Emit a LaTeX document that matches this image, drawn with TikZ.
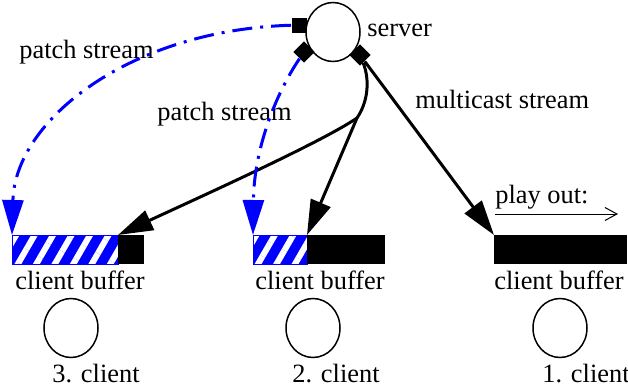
\documentclass[tikz,border=0pt]{standalone}
\usepackage{fontspec}
\setmainfont{Liberation Serif}
\usepackage{xcolor}
\usepackage{tikz}
\usetikzlibrary{positioning,calc,arrows.meta,shapes.geometric,patterns.meta}
\definecolor{PatchBlue}{RGB}{0,0,255}
\tikzset{
    lbl/.style={font=\fontsize{13.2}{15}\selectfont, inner sep=0pt},
    hostnode/.style={ellipse, draw=black, line width=0.75pt, minimum width=27pt, minimum height=29.5pt, inner sep=0pt},
    portsq/.style={rectangle, fill=black, minimum size=7.5pt, inner sep=0pt},
    portdia/.style={rectangle, fill=black, rotate=45, minimum size=7.5pt, inner sep=0pt},
    patchbuf/.style={rectangle, draw=PatchBlue, line width=0.4pt, preaction={fill=PatchBlue},
        pattern={Lines[angle=60,distance=8pt,line width=3pt]}, pattern color=white,
        minimum height=14.5pt, inner sep=0pt, outer sep=0pt, anchor=north west},
    mcbuf/.style={rectangle, fill=black, minimum height=14.5pt, inner sep=0pt, outer sep=0pt, anchor=north west},
    mcast/.style={draw=black, line width=1.5pt, -{Triangle[length=17.5pt,width=10.5pt]}},
    patch/.style={draw=PatchBlue, line width=1.5pt, dash pattern=on 10pt off 4pt on 1.5pt off 4pt,
        -{Triangle[length=17.5pt,width=10.5pt]}}
}
\begin{document}
\begin{tikzpicture}[x=0.5pt, y=-0.5pt]
    \useasboundingbox (0,0) rectangle (628,391);
    % server
    \node[hostnode] (srv) at (333,32) {};
    \node[lbl, anchor=base west] (srvlbl) at (367,37) {server};
    \node[portsq] (psq) at (299,25) {};
    \node[portdia] (pdl) at (304,52) {};
    \node[portdia] (pdr) at (360,55) {};
    % client buffers
    \node[patchbuf, minimum width=53pt] (b3a) at (12,235) {};
    \node[mcbuf, minimum width=13pt] (b3b) at (b3a.north east) {};
    \node[patchbuf, minimum width=27pt] (b2a) at (253,235) {};
    \node[mcbuf, minimum width=39pt] (b2b) at (b2a.north east) {};
    \node[mcbuf, minimum width=66.5pt] (b1) at (494,235) {};
    \node[lbl, anchor=base] (bl3) at (80,289) {client buffer};
    \node[lbl, anchor=base] (bl2) at (320,289) {client buffer};
    \node[lbl, anchor=base] (bl1) at (559,289) {client buffer};
    % clients
    \node[hostnode] (c3) at (71,328) {};
    \node[hostnode] (c2) at (313,328) {};
    \node[hostnode] (c1) at (560,328) {};
    \node[lbl, anchor=base west] (cl3) at (52,382) {3. client};
    \node[lbl, anchor=base west] (cl2) at (292,382) {2. client};
    \node[lbl, anchor=base west] (cl1) at (542,382) {1. client};
    % stream labels
    \node[lbl, anchor=base west] (ps3) at (19,58) {patch stream};
    \node[lbl, anchor=base west] (ps2) at (157,120) {patch stream};
    \node[lbl, anchor=base west] (mcl) at (415,108) {multicast stream};
    \node[lbl, anchor=base west] (pol) at (495,203) {play out:};
    \coordinate (pos) at (495,214);
    \coordinate (poe) at (618,214);
    \draw[line width=0.5pt, -{Straight Barb[length=6pt,width=6.5pt]}] (pos) -- (poe);
    % multicast stream
    \coordinate (fork) at (357,118);
    \draw[line width=1.5pt] (pdr) .. controls (370,80) and (368,102) .. (fork);
    \draw[mcast] (fork) .. controls (322,142) and (200,197) .. (b3b.north west);
    \draw[mcast] (fork) -- (b2b.north west);
    \draw[mcast] (pdr) -- (b1.north west);
    % patch streams
    \draw[patch] (psq) .. controls (130,30) and (15,120) .. (b3a.north west);
    \draw[patch] (pdl) .. controls (275,95) and (254,150) .. (b2a.north west);
\end{tikzpicture}
\end{document}
